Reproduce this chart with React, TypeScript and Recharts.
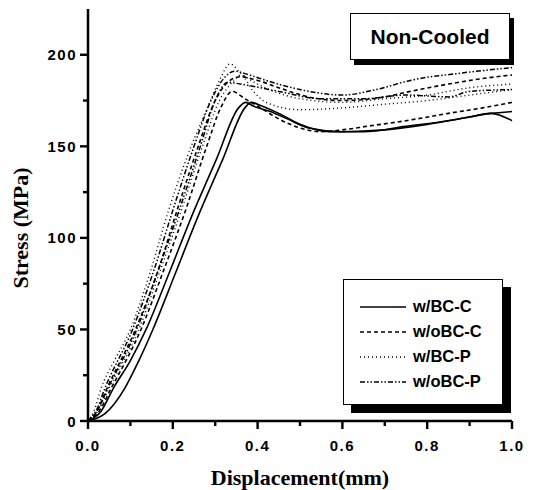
import React from 'react';
import { LineChart, Line, XAxis, YAxis } from 'recharts';

// displacement (mm), stress (MPa) pairs, two specimens per condition
const wBCC_1: [number, number][] = [[0,0],[0.03,5],[0.06,18],[0.1,33],[0.137,50],[0.19,80],[0.245,112],[0.303,143],[0.355,171],[0.372,174],[0.39,172],[0.43,169],[0.47,165],[0.52,160],[0.6,158],[0.7,159],[0.8,162],[0.9,166],[0.95,168],[1.0,164]];
const wBCC_2: [number, number][] = [[0,0],[0.04,4],[0.087,18],[0.12,33],[0.153,50],[0.205,80],[0.26,112],[0.318,143],[0.37,171],[0.385,174],[0.41,172],[0.45,168],[0.5,162],[0.57,158],[0.65,158],[0.75,161],[0.85,164],[0.95,168],[1.0,169]];
const woBCC_1: [number, number][] = [[0,0],[0.02,5],[0.045,18],[0.112,50],[0.165,82],[0.21,115],[0.26,150],[0.3,175],[0.335,186],[0.36,188],[0.4,186],[0.45,182],[0.52,177],[0.6,175],[0.7,177],[0.76,180],[0.85,184],[0.93,187],[1.0,189]];
const woBCC_2: [number, number][] = [[0,0],[0.025,5],[0.055,18],[0.125,50],[0.178,82],[0.23,115],[0.28,150],[0.315,172],[0.34,180],[0.37,176],[0.4,172],[0.45,165],[0.5,160],[0.55,158],[0.6,159],[0.66,161],[0.75,164],[0.85,168],[0.93,171],[1.0,174]];
const wBCP_1: [number, number][] = [[0,0],[0.015,6],[0.031,18],[0.06,32],[0.1,50],[0.145,80],[0.19,115],[0.235,145],[0.28,170],[0.31,186],[0.335,195],[0.36,190],[0.4,184],[0.45,179],[0.5,176],[0.6,174],[0.7,176],[0.8,178],[0.9,182],[1.0,184]];
const wBCP_2: [number, number][] = [[0,0],[0.025,6],[0.05,18],[0.12,50],[0.17,82],[0.22,115],[0.27,150],[0.31,175],[0.345,186],[0.36,189],[0.39,180],[0.42,174],[0.5,170],[0.6,171],[0.7,173],[0.8,175],[0.9,178],[1.0,181]];
const woBCP_1: [number, number][] = [[0,0],[0.02,6],[0.04,18],[0.105,50],[0.155,82],[0.2,115],[0.25,150],[0.29,175],[0.32,187],[0.345,191],[0.38,189],[0.42,186],[0.5,181],[0.6,178],[0.68,181],[0.76,186],[0.88,190],[1.0,193]];
const woBCP_2: [number, number][] = [[0,0],[0.02,5],[0.047,18],[0.115,50],[0.165,82],[0.215,115],[0.265,150],[0.3,175],[0.33,185],[0.36,184],[0.45,180],[0.55,176],[0.65,176],[0.75,178],[0.85,177],[0.9,180],[1.0,181]];

const xTicks = [0, 0.1, 0.2, 0.3, 0.4, 0.5, 0.6, 0.7, 0.8, 0.9, 1.0];
const yTicks = [0, 25, 50, 75, 100, 125, 150, 175, 200];
const legendNames = ['w/BC-C', 'w/oBC-C', 'w/BC-P', 'w/oBC-P'];

const dashes: Record<string, string | undefined> = {
  'w/BC-C': undefined,
  'w/oBC-C': '4 3',
  'w/BC-P': '1 3',
  'w/oBC-P': '5 2 1.5 2 1.5 2',
};

const series = [
  { key: 'a1', name: 'w/BC-C', pts: wBCC_1, w: 1.6 },
  { key: 'a2', name: 'w/BC-C', pts: wBCC_2, w: 1.6 },
  { key: 'b1', name: 'w/oBC-C', pts: woBCC_1, w: 1.6 },
  { key: 'b2', name: 'w/oBC-C', pts: woBCC_2, w: 1.6 },
  { key: 'c1', name: 'w/BC-P', pts: wBCP_1, w: 1.4 },
  { key: 'c2', name: 'w/BC-P', pts: wBCP_2, w: 1.4 },
  { key: 'd1', name: 'w/oBC-P', pts: woBCP_1, w: 1.5 },
  { key: 'd2', name: 'w/oBC-P', pts: woBCP_2, w: 1.5 },
];

const sans = '"Liberation Sans", Arial, sans-serif';
const serif = '"Liberation Serif", "Times New Roman", serif';

// tick mark drawn as a filled rect next to the label
const XTick = (props: any) => {
  const { x, y, payload } = props;
  const v = Number(payload.value);
  const major = Math.round(v * 10) % 2 === 0;
  return (
    <g>
      <rect x={x - 1.2} y={y} width={2.4} height={major ? 8 : 5} fill="#000" />
      {major && (
        <text x={x} y={y + 19} textAnchor="middle" dominantBaseline="hanging" fontFamily={sans}
          fontWeight="bold" fontSize={15} letterSpacing={1.5} fill="#000">
          {v.toFixed(1)}
        </text>
      )}
    </g>
  );
};

const YTick = (props: any) => {
  const { x, y, payload } = props;
  const v = Number(payload.value);
  const major = v % 50 === 0;
  const len = major ? 8 : 5;
  return (
    <g>
      <rect x={x - len} y={y - 1.2} width={len} height={2.4} fill="#000" />
      {major && (
        <text x={x - 11} y={y} textAnchor="end" dominantBaseline="central" fontFamily={sans}
          fontWeight="bold" fontSize={15} letterSpacing={1.5} fill="#000">
          {v}
        </text>
      )}
    </g>
  );
};

const App: React.FC = () => {
  return (
    <div style={{ position: 'absolute', left: 0, top: 0, width: 537, height: 490, background: '#fff' }}>
      <LineChart width={537} height={490} margin={{ top: 9, right: 25, bottom: 0, left: 0 }}>
        <XAxis
          type="number"
          dataKey="d"
          domain={[0, 1]}
          ticks={xTicks}
          interval={0}
          height={69}
          tickSize={0}
          tickMargin={0}
          tickLine={false}
          tick={(p: any) => <XTick {...p} />}
          axisLine={{ stroke: '#000', strokeWidth: 2.5 }}
          label={(p: any) => {
            const vb = p.viewBox;
            return (
              <text x={vb.x + vb.width / 2} y={vb.y + 56} textAnchor="middle" dominantBaseline="central"
                fontFamily={serif} fontWeight="bold" fontSize={22} fill="#000">
                Displacement(mm)
              </text>
            );
          }}
        />
        <XAxis xAxisId="top" orientation="top" type="number" domain={[0, 1]} height={0} tick={false}
          tickLine={false} axisLine={{ stroke: '#000', strokeWidth: 2 }} />
        <YAxis
          type="number"
          domain={[0, 225]}
          ticks={yTicks}
          interval={0}
          width={88}
          tickSize={0}
          tickMargin={0}
          tickLine={false}
          tick={(p: any) => <YTick {...p} />}
          axisLine={{ stroke: '#000', strokeWidth: 2.5 }}
          label={(p: any) => {
            const vb = p.viewBox;
            const cx = 20;
            const cy = vb.y + vb.height / 2 + 13;
            return (
              <text x={cx} y={cy} textAnchor="middle" dominantBaseline="central" transform={`rotate(-90, ${cx}, ${cy})`}
                fontFamily={serif} fontWeight="bold" fontSize={22} fill="#000">
                Stress (MPa)
              </text>
            );
          }}
        />
        <YAxis yAxisId="right" orientation="right" type="number" domain={[0, 225]} width={0} tick={false}
          tickLine={false} axisLine={{ stroke: '#000', strokeWidth: 2.5 }} />
        {series.map((s) => (
          <Line
            key={s.key}
            name={s.name}
            data={s.pts.map(([d, v]) => ({ d, s: v }))}
            dataKey="s"
            type="monotone"
            stroke="#000"
            strokeWidth={s.w}
            strokeDasharray={dashes[s.name]}
            dot={false}
            activeDot={false}
            isAnimationActive={false}
          />
        ))}
      </LineChart>
      <div style={{
        position: 'absolute', left: 343, top: 279, width: 160, height: 126, boxSizing: 'border-box',
        border: '1.5px solid #000', background: '#fff', boxShadow: '8px 8px 0 #000', paddingTop: 14,
      }}>
        {legendNames.map((name) => (
          <div key={name} style={{ display: 'flex', alignItems: 'center', height: 25 }}>
            <svg width={50} height={10} style={{ marginLeft: 14, marginRight: 5 }}>
              <line x1={2} x2={48} y1={5} y2={5} stroke="#000" strokeWidth={1.5} strokeDasharray={dashes[name]} />
            </svg>
            <span style={{ fontFamily: sans, fontWeight: 'bold', fontSize: 16.5, color: '#000' }}>{name}</span>
          </div>
        ))}
      </div>
      <div style={{
        position: 'absolute', left: 350, top: 13, width: 160, height: 47, boxSizing: 'border-box',
        border: '1.5px solid #000', background: '#fff', boxShadow: '4px 5px 0 #000',
        display: 'flex', alignItems: 'center', justifyContent: 'center',
        fontFamily: sans, fontWeight: 'bold', fontSize: 21, color: '#000',
      }}>
        Non-Cooled
      </div>
    </div>
  );
};

export default App;
